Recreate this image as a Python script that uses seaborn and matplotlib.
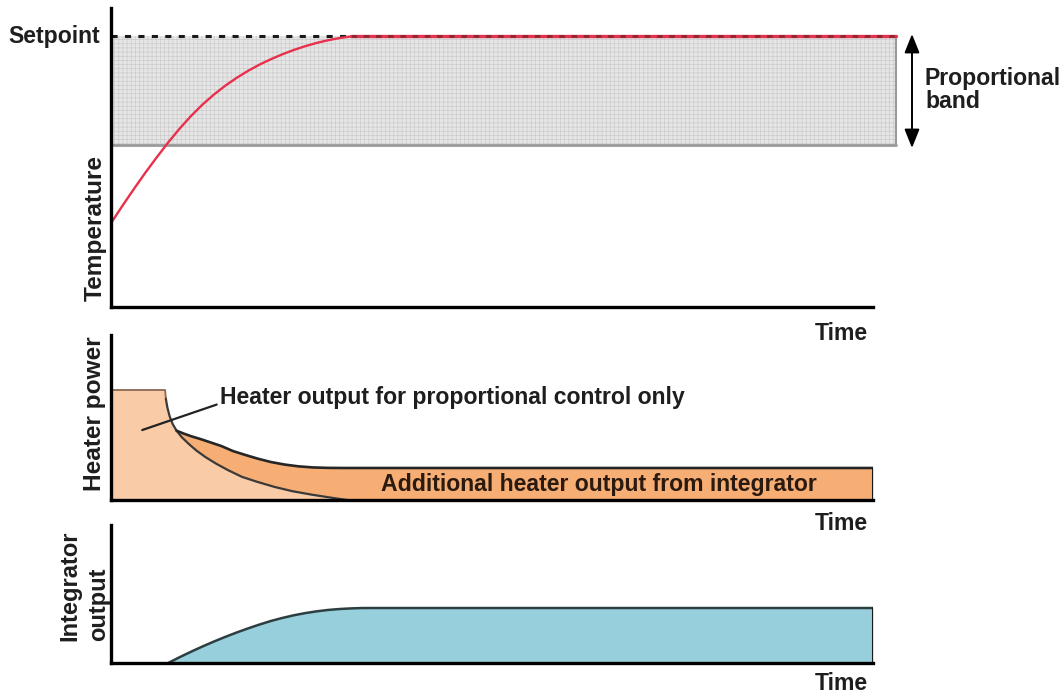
import matplotlib
matplotlib.use("Agg")
import matplotlib.pyplot as plt
import seaborn as sns
import pandas as pd

# ---- data (time in % of the plotted window) ----
temp_time = [0, 1.5, 3.0, 4.5, 6.0, 7.5, 9.0, 10.5, 12.0, 13.5, 15.0, 16.5, 18.0, 19.5,
             21.0, 22.5, 24.0, 25.5, 27.0, 28.5, 30.0, 31.5]
temp_value = [31, 37.4, 43.6, 49.6, 55.3, 60.8, 65.9, 70.6, 74.8, 78.5, 81.8, 84.7, 87.3, 89.6,
              91.6, 93.4, 95.0, 96.4, 97.6, 98.6, 99.4, 100]
setpoint = 100
band_low = 60

prop_time = [0, 7.1, 7.2, 7.4, 7.7, 8.1, 8.6, 9.3, 10.2, 11.2, 12.4, 13.8, 15.4, 17.2, 19.2,
             21.4, 23.8, 26.4, 29.0, 31.0, 100]
prop_power = [100, 100, 92, 84, 76, 69, 63, 57, 51, 45, 39, 33, 27, 21, 16.5,
              12, 8, 4.8, 2, 0, 0]

total_time = [0, 7.1, 7.2, 7.4, 7.7, 8.1, 8.6, 9.5, 10.5, 11.7, 13.0, 14.5, 16.0, 17.6, 19.3,
              21.0, 22.8, 24.6, 26.5, 28.5, 30.5, 100]
total_power = [100, 100, 92, 84, 76, 69, 63, 60.5, 58, 55.5, 52.5, 49, 44.5, 41, 37.5,
               34.5, 32.2, 30.6, 29.6, 29.2, 29.1, 29.1]

integ_time = [0, 7.5, 9.0, 10.5, 12.0, 13.5, 15.0, 16.5, 18.0, 19.5, 21.0, 22.5, 24.0, 25.5,
              27.0, 28.5, 30.0, 31.5, 33.0, 100]
integ_value = [0, 0, 10.5, 20.5, 30, 39, 47.5, 55.5, 63, 70, 76.5, 82, 86.8, 90.8,
               94, 96.5, 98.2, 99.3, 100, 100]

W, H = 1064, 697
sns.set_theme(style="white")
plt.rcParams["font.family"] = ["Liberation Sans", "DejaVu Sans"]
plt.rcParams["font.weight"] = "bold"
plt.rcParams["hatch.linewidth"] = 0.5
plt.rcParams["lines.solid_capstyle"] = "round"

fig = plt.figure(figsize=(W / 100, H / 100), dpi=100)
fig.patch.set_facecolor("white")

FS = 16.6
FS_V = 17.6
TXT = "#1e1e1e"


def px_axes(x0, y_top, x1, y_bot):
    return fig.add_axes([x0 / W, 1 - y_bot / H, (x1 - x0) / W, (y_bot - y_top) / H])


def style(ax, ymax):
    ax.set_xlim(0, 100)
    ax.set_ylim(0, ymax)
    ax.set_xticks([])
    ax.set_yticks([])
    for side in ("top", "right"):
        ax.spines[side].set_visible(False)
    for side in ("left", "bottom"):
        ax.spines[side].set_color("black")
        ax.spines[side].set_linewidth(2.4)
        ax.spines[side].set_zorder(10)
    ax.set_xlabel("")
    ax.set_ylabel("")
    ax.patch.set_alpha(0)


def ftext(x, y, s, **kw):
    kw.setdefault("fontsize", FS)
    kw.setdefault("fontweight", "bold")
    kw.setdefault("color", TXT)
    fig.text(x / W, 1 - y / H, s, **kw)


# ---- temperature panel ----
ax1 = px_axes(111, 8, 873, 307)
band_end = 103
ax1.fill_between([0, band_end], band_low, setpoint, facecolor="#e6e6e6",
                 edgecolor="#cccccc", hatch="++++", linewidth=0, clip_on=False, zorder=1)
ax1.plot([0, band_end], [band_low, band_low], color="#9a9a9a", lw=2, clip_on=False, zorder=2)
ax1.plot([band_end, band_end], [band_low, setpoint], color="#9a9a9a", lw=1.5, clip_on=False, zorder=2)
ax1.plot([temp_time[-1], band_end], [setpoint, setpoint], color="#e2344e", lw=2.4,
         clip_on=False, zorder=3)
ax1.plot([temp_time[-1], band_end], [setpoint, setpoint], color="#5a1a20", lw=2.0,
         ls=(0, (2.0, 2.4)), alpha=0.6, clip_on=False, zorder=4)
# black dashed portion before the curve reaches the setpoint
ax1.plot([0, temp_time[-1]], [setpoint, setpoint], color="#1a1a1a", lw=2.2, ls=(0, (2.0, 2.4)),
         clip_on=False, zorder=5)
temp_df = pd.DataFrame({"time": temp_time, "temperature": temp_value})
sns.lineplot(data=temp_df, x="time", y="temperature", ax=ax1, color="#e8304c", lw=1.7,
             sort=False, zorder=6)
style(ax1, 110.5)

ftext(8, 36, "Setpoint", ha="left", va="center")
ftext(95, 228, "Temperature", rotation=90, ha="center", va="center", fontsize=FS_V)
ftext(868, 333, "Time", ha="right", va="center")

# proportional band arrow
ax1.annotate("", xy=(912 / W, 1 - 34 / H), xytext=(912 / W, 1 - 148 / H),
             xycoords="figure fraction", textcoords="figure fraction",
             arrowprops=dict(arrowstyle="<|-|>,head_length=0.95,head_width=0.38",
                             color="black", lw=1.4, shrinkA=0, shrinkB=0))
ftext(925, 78, "Proportional", ha="left", va="center")
ftext(925, 102, "band", ha="left", va="center")

# ---- heater power panel ----
ax2 = px_axes(111, 335, 873, 500)
ax2.fill_between(total_time, 0, total_power, color="#f6ae74", lw=0, zorder=1)
ax2.fill_between(prop_time, 0, prop_power, color="#f9cba6", lw=0, zorder=2)
top_df = pd.DataFrame({"time": prop_time[:3], "power": prop_power[:3]})
sns.lineplot(data=top_df, x="time", y="power", ax=ax2, color="#8a6a55", lw=1.3, sort=False, zorder=3)
prop_df = pd.DataFrame({"time": prop_time[2:-1], "power": prop_power[2:-1]})
sns.lineplot(data=prop_df, x="time", y="power", ax=ax2, color="#3a3a3a", lw=1.6, sort=False, zorder=3)
total_df = pd.DataFrame({"time": total_time[6:], "power": total_power[6:]})
sns.lineplot(data=total_df, x="time", y="power", ax=ax2, color="#262626", lw=1.9, sort=False, zorder=3)
ax2.plot([100, 100], [0, total_power[-1]], color="#1a1a1a", lw=2.2, zorder=4)
style(ax2, 150)

ax2.annotate("Heater output for proportional control only", xy=(4.1, 63.6), xytext=(14.3, 93),
             fontsize=FS, fontweight="bold", color=TXT, va="center", ha="left",
             arrowprops=dict(arrowstyle="-", color="#222222", lw=1.6, shrinkA=0, shrinkB=0,
                             relpos=(0, 0.25)))
ax2.text(64.0, 14.5, "Additional heater output from integrator", fontsize=FS, fontweight="bold",
         color="#2a1a10", ha="center", va="center", zorder=5)
ftext(95, 414, "Heater power", rotation=90, ha="center", va="center", fontsize=FS_V)
ftext(868, 524, "Time", ha="right", va="center")

# ---- integrator panel ----
ax3 = px_axes(111, 525, 873, 663)
ax3.fill_between(integ_time, 0, integ_value, color="#97cfdc", lw=0, zorder=1)
integ_df = pd.DataFrame({"time": integ_time[1:], "output": integ_value[1:]})
sns.lineplot(data=integ_df, x="time", y="output", ax=ax3, color="#2c3e40", lw=1.8, sort=False, zorder=3)
ax3.plot([100, 100], [0, integ_value[-1]], color="#1a1a1a", lw=2.2, zorder=4)
style(ax3, 251)

ftext(70, 641, "Integrator", rotation=90, ha="center", va="bottom", fontsize=FS_V - 0.6)
ftext(99, 641, "output", rotation=90, ha="center", va="bottom", fontsize=FS_V - 0.6)
ftext(868, 695, "Time", ha="right", va="bottom")

fig.savefig("out.png", dpi=100, facecolor="white")
